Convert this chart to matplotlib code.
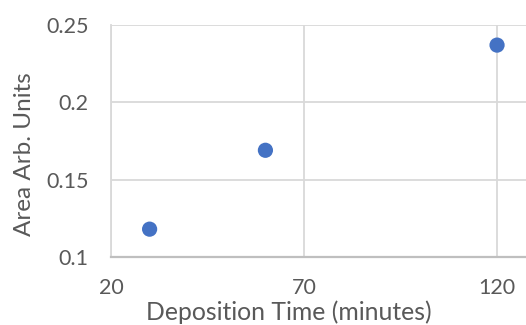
import matplotlib
matplotlib.use("Agg")
import matplotlib.pyplot as plt

# deposition time (minutes) vs measured area
deposition_time = [30, 60, 120]
area = [0.118, 0.169, 0.237]
x_ticks = [20, 70, 120]
y_ticks = [0.1, 0.15, 0.2, 0.25]
y_tick_labels = ["0.1", "0.15", "0.2", "0.25"]

GRID = "#d9d9d9"
AXIS = "#bfbfbf"
TEXT = "#595959"
POINT = "#4472c4"

plt.rcParams["font.family"] = ["Lato", "DejaVu Sans"]

W, H = 526, 325
left, bottom, top = 111, 257, 25
fig = plt.figure(figsize=(W / 100, H / 100), dpi=100)
ax = fig.add_axes([left / W, (H - bottom) / H, 1 - left / W, (bottom - top) / H])

ax.scatter(deposition_time, area, s=120, color=POINT, edgecolors="none", zorder=3, clip_on=False)

ax.set_xlim(20, 127.5)
ax.set_ylim(0.1, 0.25)
ax.set_xticks(x_ticks)
ax.set_yticks(y_ticks)
ax.set_yticklabels(y_tick_labels)
ax.grid(True, color=GRID, linewidth=1.3)
ax.set_axisbelow(True)

for side in ("top", "right"):
    ax.spines[side].set_visible(False)
ax.spines["left"].set_color(GRID)
ax.spines["left"].set_linewidth(1.3)
ax.spines["bottom"].set_color(AXIS)
ax.spines["bottom"].set_linewidth(1.6)

ax.tick_params(length=0, labelsize=15.5, labelcolor=TEXT)
ax.tick_params(axis="x", pad=15)
ax.tick_params(axis="y", pad=16)

# axis titles placed in pixel terms relative to the plot area
ax_w, ax_h = W - left, bottom - top
ax.set_xlabel("Deposition Time (minutes)", fontsize=17.8, color=TEXT, va="center", ha="center")
ax.xaxis.set_label_coords((289 - left) / ax_w, (H - 312 - (H - bottom)) / ax_h)
ax.set_ylabel("Area Arb. Units", fontsize=17.5, color=TEXT, va="center", ha="center")
ax.yaxis.set_label_coords((25 - left) / ax_w, (H - 154 - (H - bottom)) / ax_h)

fig.savefig("out.png", dpi=100)
